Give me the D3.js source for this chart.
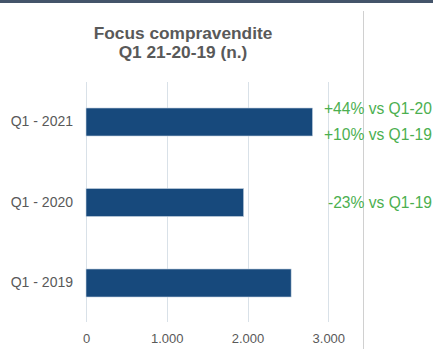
<!DOCTYPE html>
<html>
<head>
<meta charset="utf-8">
<script src="https://cdn.jsdelivr.net/npm/d3@7"></script>
<style>
  html, body { margin: 0; padding: 0; background: #ffffff; }
  svg { display: block; font-family: Arial, "Liberation Sans", sans-serif; }
</style>
</head>
<body>
<svg id="chart" width="433" height="349"></svg>
<script>
// Compravendite per primo trimestre (numero)
const categories = ["Q1 - 2021", "Q1 - 2020", "Q1 - 2019"];
const values = [2805, 1952, 2540];
const tickValues = [0, 1000, 2000, 3000];
const tickLabels = ["0", "1.000", "2.000", "3.000"];
const titleLines = ["Focus compravendite", "Q1 21-20-19 (n.)"];
// Variazioni annotate accanto alle barre: [categoria, testo, riga]
const notes = [
  ["Q1 - 2021", "+44% vs Q1-20", -1],
  ["Q1 - 2021", "+10% vs Q1-19", 1],
  ["Q1 - 2020", "-23% vs Q1-19", 0]
];

const svg = d3.select("#chart");

// Fascia scura in alto
svg.append("rect").attr("x", 0).attr("y", 0).attr("width", 433).attr("height", 3)
  .attr("fill", "#44546a");

// Separatore verticale a destra
svg.append("line").attr("x1", 363.5).attr("x2", 363.5).attr("y1", 11).attr("y2", 349)
  .attr("stroke", "#d0d0d0").attr("stroke-width", 1);

const x = d3.scaleLinear().domain([0, 3000]).range([86, 328.3]);
const y = d3.scaleBand().domain(categories).range([81.75, 323.25])
  .paddingInner(0.652).paddingOuter(0.326);

// Titolo
svg.append("text")
  .attr("x", 183).attr("text-anchor", "middle")
  .attr("fill", "#595959").attr("font-weight", "bold").attr("font-size", 17.3)
  .selectAll("tspan").data(titleLines).join("tspan")
  .attr("x", 183).attr("y", (d, i) => 39 + i * 19).text(d => d);

// Griglia verticale
svg.append("g").selectAll("line").data(tickValues).join("line")
  .attr("x1", d => Math.round(x(d)) + 0.5).attr("x2", d => Math.round(x(d)) + 0.5)
  .attr("y1", 82).attr("y2", 322)
  .attr("stroke", "#d9e1e8").attr("stroke-width", 1);

// Barre
svg.append("g").selectAll("rect").data(categories).join("rect")
  .attr("x", x(0)).attr("y", d => y(d))
  .attr("width", (d, i) => x(values[i]) - x(0))
  .attr("height", y.bandwidth())
  .attr("fill", "#17497c")
  .attr("stroke", "#c9d6e3").attr("stroke-width", 0.6);

// Asse X
const xAxis = d3.axisBottom(x).tickValues(tickValues)
  .tickFormat((d, i) => tickLabels[i]).tickSize(0).tickPadding(0);
const gx = svg.append("g").attr("transform", "translate(0,334)").call(xAxis);
gx.select(".domain").remove();
gx.selectAll("text").attr("font-size", 13).attr("fill", "#595959")
  .attr("font-family", "Arial, 'Liberation Sans', sans-serif");

// Asse Y (etichette categorie)
const yAxis = d3.axisLeft(y).tickSize(0).tickPadding(0);
const gy = svg.append("g").attr("transform", "translate(73,0)").call(yAxis);
gy.select(".domain").remove();
gy.selectAll("text").attr("font-size", 14).attr("fill", "#595959")
  .attr("font-family", "Arial, 'Liberation Sans', sans-serif");

// Annotazioni delle variazioni
svg.append("g").selectAll("text").data(notes).join("text")
  .attr("x", d => d[2] === 0 ? 328 : 324)
  .attr("y", d => y(d[0]) + y.bandwidth() / 2 + d[2] * 13)
  .attr("dy", "0.35em")
  .attr("font-size", 15.6).attr("fill", "#4caf50")
  .text(d => d[1]);
</script>
</body>
</html>
